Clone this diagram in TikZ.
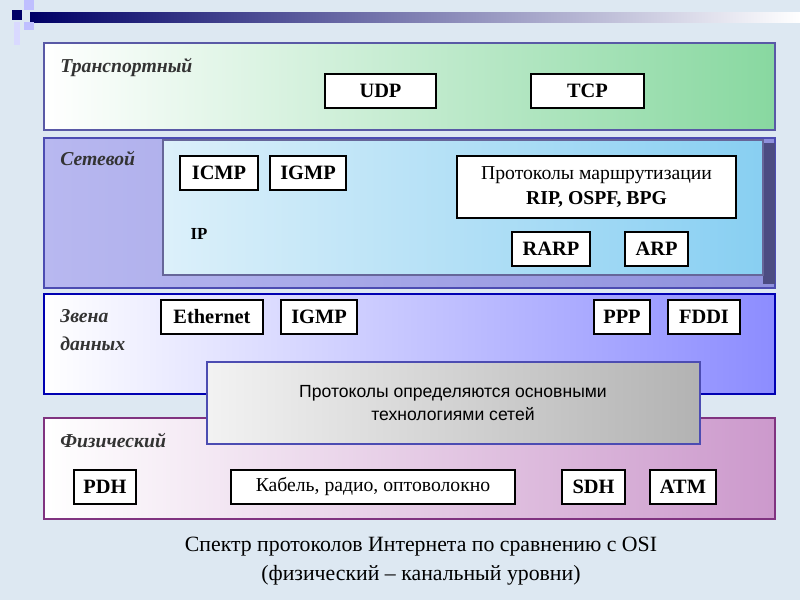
\documentclass[tikz,border=0pt]{standalone}
\usepackage{fontspec}
\setmainfont{Liberation Serif}
\setsansfont{Liberation Sans}
\begin{document}
\begin{tikzpicture}[x=0.025cm,y=-0.025cm,
 pb/.style={draw=black,line width=0.8pt,fill=white,font=\bfseries\fontsize{14.5}{16}\selectfont,inner sep=0pt},
 lay/.style={draw=#1,line width=1.2pt},
 lbl/.style={anchor=north west,font=\bfseries\itshape\fontsize{14}{17}\selectfont,text=black!80,align=left,inner sep=0pt}]
\definecolor{bg}{HTML}{DDE8F2}
\definecolor{inL}{HTML}{DCF0FA}
\definecolor{inR}{HTML}{88CFF2}
\definecolor{netL}{HTML}{B8B8F0}
\definecolor{netR}{HTML}{8E90DC}
\definecolor{trR}{HTML}{88D8A0}
\fill[bg] (0,0) rectangle (800,600);
\useasboundingbox (0,0) rectangle (800,600);
% title bar
\shade[left color=blue!40!black, right color=white] (30,12) rectangle (800,22);
\fill[blue!40!black] (12,10) rectangle (22,20);
\fill[blue!25!white] (24,0) rectangle (34,10);
\fill[blue!25!white] (24,22) rectangle (34,30);
\fill[blue!15!white] (14,22) rectangle (20,45);
% layers
\shade[left color=white, right color=trR] (44,43) rectangle (775,130);
\draw[lay=gray!70!blue] (44,43) rectangle (775,130);
\shade[left color=netL, right color=netR] (44,138) rectangle (775,288);
\draw[lay=blue!40!gray] (44,138) rectangle (775,288);
\fill[blue!30!black!70] (763,143) rectangle (775,284);
\shade[left color=inL, right color=inR] (163,140) rectangle (763,275);
\draw[lay=gray!80!blue] (163,140) rectangle (763,275);
\shade[left color=white, right color=blue!45!white] (44,294) rectangle (775,394);
\draw[lay=blue!70!black] (44,294) rectangle (775,394);
\shade[left color=white, right color=violet!40!white] (44,418) rectangle (775,519);
\draw[lay=violet!60!gray] (44,418) rectangle (775,519);
\shade[left color=gray!10, right color=gray!60] (207,362) rectangle (700,444);
\draw[lay=gray!60!blue] (207,362) rectangle (700,444);
\node[font=\sffamily\fontsize{12.5}{16}\selectfont,align=center] (note) at (453,403) {Протоколы определяются основными\\технологиями сетей};
% labels
\node[lbl] (l1) at (60,58) {Транспортный};
\node[lbl] (l2) at (60,151) {Сетевой};
\node[lbl] (l3) at (60,309) {Звена\\[3pt]данных};
\node[lbl] (l4) at (60,433) {Физический};
\node[font=\bfseries\fontsize{12}{14}\selectfont] (ip) at (199,234) {IP};
% boxes
\node[pb,minimum width=2.775cm,minimum height=0.85cm] (udp) at (380.5,91) {UDP};
\node[pb,minimum width=2.825cm,minimum height=0.85cm] (tcp) at (587.5,91) {TCP};
\node[pb,minimum width=1.95cm,minimum height=0.85cm] (icmp) at (219,173) {ICMP};
\node[pb,minimum width=1.9cm,minimum height=0.85cm] (igmp1) at (308,173) {IGMP};
\node[pb,minimum width=6.975cm,minimum height=1.55cm,align=center,font=\fontsize{14}{18}\selectfont] (rout) at (596.5,187) {Протоколы маршрутизации\\\textbf{RIP, OSPF, BPG}};
\node[pb,minimum width=1.95cm,minimum height=0.85cm] (rarp) at (551,249) {RARP};
\node[pb,minimum width=1.575cm,minimum height=0.85cm] (arp) at (656.5,249) {ARP};
\node[pb,minimum width=2.55cm,minimum height=0.85cm] (eth) at (212,317) {Ethernet};
\node[pb,minimum width=1.9cm,minimum height=0.85cm] (igmp2) at (319,317) {IGMP};
\node[pb,minimum width=1.4cm,minimum height=0.85cm] (ppp) at (622,317) {PPP};
\node[pb,minimum width=1.8cm,minimum height=0.85cm] (fddi) at (704,317) {FDDI};
\node[pb,minimum width=1.55cm,minimum height=0.85cm] (pdh) at (105,487) {PDH};
\node[pb,minimum width=7.1cm,minimum height=0.85cm,font=\fontsize{14}{16}\selectfont] (cab) at (373,487) {Кабель, радио, оптоволокно};
\node[pb,minimum width=1.575cm,minimum height=0.85cm] (sdh) at (593.5,487) {SDH};
\node[pb,minimum width=1.65cm,minimum height=0.85cm] (atm) at (683,487) {ATM};
% caption
\node[font=\fontsize{15.5}{21}\selectfont,align=center] (cap) at (421,561) {Спектр протоколов Интернета по сравнению с OSI\\(физический -- канальный уровни)};
\end{tikzpicture}
\end{document}
